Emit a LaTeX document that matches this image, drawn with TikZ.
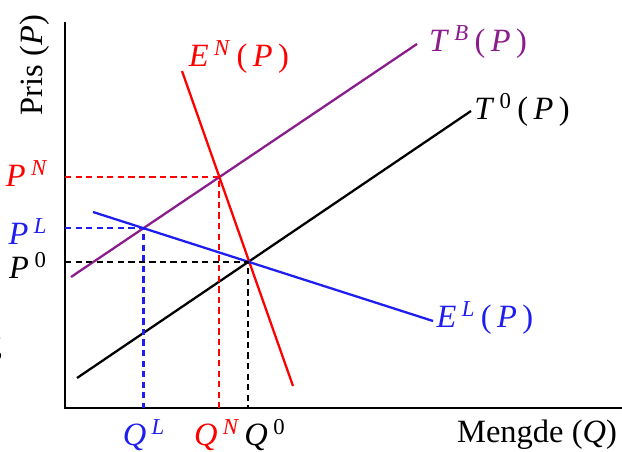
\documentclass[tikz,border=0pt]{standalone}
\usepackage{fontspec}
\setmainfont{Liberation Serif}
\usepackage{tikz}
\usetikzlibrary{intersections,calc}
\definecolor{ink}{HTML}{000000}
\definecolor{nred}{HTML}{FF0000}
\definecolor{lblue}{HTML}{1E1EF0}
\definecolor{bplum}{HTML}{8B1C8B}
\tikzset{
  every node/.style={font=\fontsize{18.5}{22}\selectfont,text=ink,inner sep=1pt},
  axis/.style={line width=1.3pt,draw=ink},
  curve/.style={line width=1.3pt},
  guide/.style={line width=1.2pt,dash pattern=on 3.6pt off 2.4pt},
  redlbl/.style={text=nred},
  bluelbl/.style={text=lblue},
  plumlbl/.style={text=bplum}
}
\newcommand{\sym}[2]{\textit{#1}\,\textsuperscript{#2}}
\newcommand{\ofp}{\,(\,\textit{P}\,)}

\begin{document}
\begin{tikzpicture}[x=0.02cm,y=-0.02cm]
  \useasboundingbox (0,0) rectangle (622,452);

  % axes
  \coordinate (ytop) at (65,22);
  \coordinate (orig) at (65,408);
  \coordinate (xend) at (622,408);
  \draw[axis] (ytop)--(orig)--(xend);

  % supply and demand lines
  \coordinate (t0a) at (77,378);  \coordinate (t0b) at (471,111);
  \coordinate (tba) at (71,277);  \coordinate (tbb) at (417,44);
  \coordinate (ena) at (182,71);  \coordinate (enb) at (293,386);
  \coordinate (ela) at (93,212);  \coordinate (elb) at (433,321);
  \draw[curve,draw=ink,name path=tzero] (t0a)--(t0b);
  \draw[curve,draw=bplum,name path=tbuy] (tba)--(tbb);
  \draw[curve,draw=nred,name path=enorth] (ena)--(enb);
  \draw[curve,draw=lblue,name path=eleft] (ela)--(elb);

  \path[name intersections={of=tzero and eleft,by=eq}];
  \path[name intersections={of=tbuy and enorth,by=eqn}];
  \path[name intersections={of=tbuy and eleft,by=eql}];

  % guides to the axes
  \draw[guide,draw=ink] (orig|-eq)--(eq)--(eq|-orig);
  \draw[guide,draw=nred] (orig|-eqn)--(eqn)--(eqn|-orig);
  \draw[guide,draw=lblue] (orig|-eql)--(eql)--(eql|-orig);

  % labels
  \node[rotate=90] (pris) at (35,65) {Pris (\textit{P})};
  \node (mengde) at (537,435) {Mengde (\textit{Q})};
  \node[anchor=east] (cut) at (4,350) {g};

  \node[redlbl] (pn) at (27,174) {\sym{P}{\textit{N}}};
  \node[bluelbl] (pl) at (28,232) {\sym{P}{\textit{L}}};
  \node (pz) at (28,265) {\sym{P}{0}};

  \node[bluelbl] (ql) at (144,435) {\sym{Q}{\textit{L}}};
  \node[redlbl] (qn) at (217,435) {\sym{Q}{\textit{N}}};
  \node (qz) at (265,435) {\sym{Q}{0}};

  \node[redlbl] (enlbl) at (239,57) {\sym{E}{\textit{N}}\ofp};
  \node[plumlbl] (tblbl) at (478,42) {\sym{T}{\textit{B}}\ofp};
  \node (tzlbl) at (522,110) {\sym{T}{0}\ofp};
  \node[bluelbl] (ellbl) at (485,318) {\sym{E}{\textit{L}}\ofp};
\end{tikzpicture}
\end{document}
